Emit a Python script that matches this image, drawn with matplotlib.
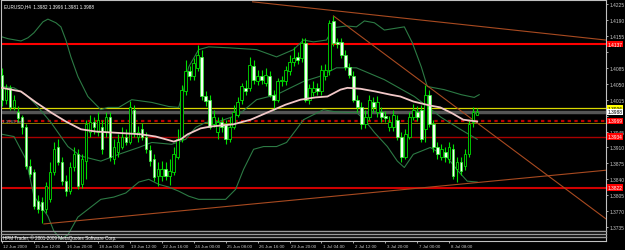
import numpy as np
import matplotlib.pyplot as plt
import matplotlib.transforms as mtrans
from matplotlib.lines import Line2D
from matplotlib import font_manager

# pick a narrow face if there is one, else plain Liberation Sans
names = {f.name for f in font_manager.fontManager.ttflist}
if 'Liberation Sans Narrow' in names:
    FONT, FS = 'Liberation Sans Narrow', 4.5
else:
    FONT, FS = 'Liberation Sans', 3.7
plt.rcParams['font.family'] = [FONT, 'DejaVu Sans']

# EURUSD H4 candles (bar index 0..119)
opens = [1.4070, 1.4015, 1.4041, 1.3998, 1.3989, 1.3976, 1.3954, 1.3869, 1.3856, 1.3792,
         1.3790, 1.3775, 1.3796, 1.3856, 1.3910, 1.3877, 1.3836, 1.3814, 1.3866, 1.3895,
         1.3830, 1.3880, 1.3945, 1.3965, 1.3945, 1.3956, 1.3943, 1.3978, 1.3884, 1.3901,
         1.3912, 1.3932, 1.3923, 1.3993, 1.3934, 1.3950, 1.3934, 1.3904, 1.3884, 1.3847,
         1.3847, 1.3862, 1.3847, 1.3856, 1.3890, 1.3928, 1.4033, 1.4077, 1.4066, 1.4085,
         1.4109, 1.4022, 1.4015, 1.3961, 1.3943, 1.3965, 1.3961, 1.3928, 1.3956, 1.3982,
         1.4015, 1.4041, 1.4041, 1.4090, 1.4055, 1.4066, 1.4052, 1.4066, 1.4026, 1.4015,
         1.4055, 1.4055, 1.4077, 1.4098, 1.4109, 1.4107, 1.4140, 1.4015, 1.4031, 1.4041,
         1.4033, 1.4066, 1.4081, 1.4188, 1.4142, 1.4142, 1.4114, 1.4087, 1.4066, 1.4015,
         1.3998, 1.3961, 1.3978, 1.4009, 1.3987, 1.3987, 1.3980, 1.3956, 1.3956, 1.3971,
         1.3934, 1.3890, 1.3934, 1.3978, 1.3989, 1.3993, 1.3950, 1.4026, 1.3961, 1.3910,
         1.3890, 1.3901, 1.3884, 1.3906, 1.3862, 1.3877, 1.3869, 1.3895, 1.3965, 1.3982]
highs = [1.4085, 1.4050, 1.4048, 1.4026, 1.4002, 1.3982, 1.3961, 1.3884, 1.3862, 1.3805,
         1.3801, 1.3834, 1.3877, 1.3921, 1.3928, 1.3888, 1.3849, 1.3877, 1.3912, 1.3906,
         1.3895, 1.3971, 1.3982, 1.3976, 1.3987, 1.3971, 1.3989, 1.3989, 1.3928, 1.3939,
         1.3956, 1.3950, 1.4011, 1.4004, 1.3958, 1.3963, 1.3945, 1.3915, 1.3895, 1.3877,
         1.3880, 1.3877, 1.3884, 1.3910, 1.3950, 1.4048, 1.4103, 1.4090, 1.4107, 1.4136,
         1.4125, 1.4033, 1.4026, 1.3993, 1.3976, 1.3978, 1.3971, 1.3976, 1.4004, 1.4020,
         1.4052, 1.4059, 1.4109, 1.4103, 1.4081, 1.4081, 1.4085, 1.4077, 1.4037, 1.4063,
         1.4068, 1.4090, 1.4114, 1.4131, 1.4120, 1.4151, 1.4151, 1.4050, 1.4055, 1.4052,
         1.4092, 1.4094, 1.4190, 1.4199, 1.4151, 1.4151, 1.4125, 1.4096, 1.4077, 1.4026,
         1.4009, 1.3993, 1.4026, 1.4020, 1.4022, 1.3998, 1.3991, 1.3980, 1.3993, 1.3982,
         1.3943, 1.3950, 1.3989, 1.4006, 1.4002, 1.4004, 1.4048, 1.4037, 1.3971, 1.3921,
         1.3917, 1.3910, 1.3921, 1.3917, 1.3888, 1.3888, 1.3906, 1.3971, 1.3998, 1.3996]
lows = [1.4002, 1.4006, 1.3993, 1.3993, 1.3965, 1.3939, 1.3862, 1.3845, 1.3775, 1.3766,
        1.3744, 1.3766, 1.3790, 1.3849, 1.3871, 1.3827, 1.3803, 1.3807, 1.3858, 1.3818,
        1.3822, 1.3840, 1.3932, 1.3939, 1.3936, 1.3895, 1.3932, 1.3880, 1.3873, 1.3890,
        1.3906, 1.3915, 1.3917, 1.3932, 1.3923, 1.3926, 1.3897, 1.3869, 1.3836, 1.3825,
        1.3836, 1.3838, 1.3827, 1.3849, 1.3884, 1.3921, 1.4026, 1.4059, 1.4059, 1.4079,
        1.4015, 1.4002, 1.3950, 1.3954, 1.3928, 1.3943, 1.3917, 1.3921, 1.3950, 1.3976,
        1.4006, 1.4026, 1.4033, 1.4050, 1.4048, 1.4050, 1.4044, 1.4020, 1.3993, 1.4009,
        1.4046, 1.4048, 1.4070, 1.4090, 1.4094, 1.4098, 1.4009, 1.4006, 1.4022, 1.4026,
        1.4026, 1.4059, 1.4070, 1.4133, 1.4129, 1.4107, 1.4081, 1.4063, 1.4009, 1.3989,
        1.3950, 1.3952, 1.3971, 1.3989, 1.3978, 1.3967, 1.3965, 1.3947, 1.3947, 1.3926,
        1.3877, 1.3884, 1.3928, 1.3971, 1.3969, 1.3921, 1.3921, 1.3954, 1.3901, 1.3884,
        1.3882, 1.3877, 1.3875, 1.3840, 1.3834, 1.3849, 1.3860, 1.3888, 1.3956, 1.3981]
closes = [1.4015, 1.4041, 1.4000, 1.4015, 1.3974, 1.3954, 1.3869, 1.3851, 1.3781, 1.3775,
          1.3772, 1.3825, 1.3856, 1.3906, 1.3877, 1.3836, 1.3814, 1.3866, 1.3895, 1.3825,
          1.3884, 1.3961, 1.3965, 1.3956, 1.3971, 1.3906, 1.3976, 1.3888, 1.3912, 1.3921,
          1.3934, 1.3923, 1.3998, 1.3943, 1.3945, 1.3934, 1.3906, 1.3880, 1.3845, 1.3862,
          1.3862, 1.3847, 1.3858, 1.3895, 1.3928, 1.4037, 1.4077, 1.4068, 1.4096, 1.4114,
          1.4022, 1.4011, 1.3956, 1.3976, 1.3965, 1.3954, 1.3928, 1.3954, 1.3987, 1.4009,
          1.4044, 1.4033, 1.4092, 1.4059, 1.4066, 1.4059, 1.4070, 1.4026, 1.4015, 1.4055,
          1.4059, 1.4081, 1.4098, 1.4107, 1.4103, 1.4140, 1.4015, 1.4041, 1.4041, 1.4035,
          1.4081, 1.4081, 1.4184, 1.4140, 1.4138, 1.4114, 1.4087, 1.4070, 1.4015, 1.3998,
          1.3961, 1.3978, 1.4015, 1.4000, 1.4009, 1.3976, 1.3974, 1.3967, 1.3982, 1.3934,
          1.3890, 1.3939, 1.3978, 1.3993, 1.3978, 1.3928, 1.4026, 1.3961, 1.3910, 1.3895,
          1.3906, 1.3888, 1.3910, 1.3847, 1.3877, 1.3858, 1.3895, 1.3961, 1.3987, 1.3988]

# Bollinger bands, sampled along the curves
bb_up_x = [0, 1.5, 4.75, 6.5, 8, 10.25, 11.5, 13.5, 14.75, 16, 17.25, 19, 21.5, 24.75, 26.5,
           29.25, 32.5, 37.5, 41.75, 44.25, 45.5, 46.75, 49.25, 51.75, 56.75, 63.75, 68.75,
           73, 75.5, 78, 81.25, 83, 86.25, 88.75, 90.75, 93.25, 95.75, 100.75, 102.75, 105,
           106.5, 110.75, 115, 118.25, 119.5]
bb_up = [1.4153, 1.4149, 1.4144, 1.4151, 1.4162, 1.4186, 1.4192, 1.4184, 1.4175, 1.4146,
         1.4109, 1.4066, 1.4022, 1.3993, 1.3998, 1.3998, 1.4015, 1.4009, 1.4000, 1.3998,
         1.4037, 1.4087, 1.4125, 1.4131, 1.4129, 1.4125, 1.4109, 1.4125, 1.4146, 1.4142,
         1.4146, 1.4173, 1.4177, 1.4175, 1.4188, 1.4184, 1.4168, 1.4175, 1.4140, 1.4087,
         1.4044, 1.4037, 1.4026, 1.4020, 1.4026]
bb_mid_x = [0, 3, 6, 8.5, 12.25, 16.5, 19.75, 24.75, 29.25, 34.25, 37.5, 42.5, 46, 48.5,
            51, 54.25, 59.25, 63.75, 68.75, 75.5, 79.5, 83.75, 88.75, 95.75, 103.25, 110,
            114.75, 119]
bb_mid = [1.4044, 1.4041, 1.4026, 1.4004, 1.3965, 1.3912, 1.3891, 1.3880, 1.3895, 1.3910,
          1.3921, 1.3917, 1.3928, 1.3954, 1.3965, 1.3967, 1.3982, 1.4015, 1.4026, 1.4055,
          1.4066, 1.4085, 1.4085, 1.4059, 1.4022, 1.3976, 1.3950, 1.3928]
bb_lo_x = [0, 3, 6, 8, 11.5, 13, 14.75, 16.5, 19, 24.75, 28, 31, 34.25, 36.75, 39.25,
           41.75, 44.25, 46.75, 49.25, 52.5, 56, 58.5, 60.5, 63, 65.5, 68.75, 71.25, 73.75,
           75.5, 78, 80.5, 83, 86.25, 88.75, 90.75, 93.25, 96.5, 99, 100.75, 103, 107.25,
           111.5, 114.25, 116.5, 119]
bb_lo = [1.3939, 1.3934, 1.3884, 1.3803, 1.3759, 1.3726, 1.3709, 1.3718, 1.3757, 1.3796,
         1.3801, 1.3810, 1.3834, 1.3840, 1.3829, 1.3823, 1.3814, 1.3803, 1.3796, 1.3796,
         1.3796, 1.3818, 1.3862, 1.3906, 1.3912, 1.3912, 1.3921, 1.3950, 1.3971, 1.3982,
         1.3993, 1.3989, 1.3987, 1.3987, 1.3971, 1.3943, 1.3912, 1.3880, 1.3866, 1.3895,
         1.3910, 1.3888, 1.3858, 1.3836, 1.3834]

# slow moving average (pink)
ma_x = [0, 4.75, 8.5, 12.25, 16, 19.75, 23.5, 27.25, 31, 34.75, 38.5, 41, 43, 44.75, 46.5,
        49.75, 52.25, 58, 62.25, 66.5, 71, 74.75, 78.5, 81.5, 84.75, 86.5, 89.75, 93.5,
        97.25, 99.75, 103, 107.25, 109.75, 112.75, 115.5, 119]
ma = [1.4041, 1.4033, 1.4009, 1.3987, 1.3967, 1.3950, 1.3945, 1.3943, 1.3941, 1.3939,
      1.3934, 1.3928, 1.3923, 1.3928, 1.3939, 1.3952, 1.3956, 1.3961, 1.3971, 1.3987,
      1.4004, 1.4015, 1.4020, 1.4022, 1.4037, 1.4041, 1.4039, 1.4033, 1.4026, 1.4022,
      1.4011, 1.4002, 1.3998, 1.3985, 1.3971, 1.3967]

# trend lines: (bar, price) start and end
trend_top = [(62.75, 1.4230), (151.25, 1.4146)]
trend_down = [(83, 1.4199), (151.25, 1.3753)]
trend_up = [(10.5, 1.3742), (151.25, 1.3860)]

# horizontal levels with their price tags
level_prices = [1.4137, 1.3996, 1.3988, 1.3969, 1.3934, 1.3822]
level_colors = ['#ff0000', '#d8d800', '#555555', '#c00000', '#a80000', '#d00000']
level_widths = [1.5, 0.9, 2.5, 1.6, 1.0, 1.5]
level_dashes = [None, None, None, (1.5, 1.5), None, None]
tag_colors = ['#ff0000', '#ffff00', '#ffffff', '#ff0000', '#ff0000', '#ff0000']
tag_text = ['white', 'black', 'black', 'white', 'white', 'white']

yticks = [1.4225, 1.4190, 1.4155, 1.4120, 1.4085, 1.4050, 1.4015, 1.3980,
          1.3945, 1.3910, 1.3875, 1.3840, 1.3805, 1.3770, 1.3735]
hidden_ticks = [1.4120, 1.3980]   # covered by the price tags
xtick_bars = [0, 8, 16, 24, 32, 40, 48, 56, 64, 72, 80, 88, 96, 104, 112]
xtick_labels = ['12 Jun 2009', '15 Jun 12:00', '16 Jun 20:00', '18 Jun 04:00',
                '19 Jun 12:00', '22 Jun 16:00', '24 Jun 00:00', '25 Jun 08:00',
                '26 Jun 16:00', '29 Jun 20:00', '1 Jul 04:00', '2 Jul 12:00',
                '3 Jul 20:00', '7 Jul 00:00', '8 Jul 08:00']

W, H = 625, 251
fig = plt.figure(figsize=(W / 100, H / 100), dpi=100, facecolor='black')
ax = fig.add_axes([1 / W, 1 - 242 / H, 605 / W, 241 / H], facecolor='black')
ax.set_xlim(-0.25, 151.25)
ax.set_ylim(1.37045, 1.4234)

o = np.array(opens); h = np.array(highs); l = np.array(lows); c = np.array(closes)
idx = np.arange(len(o))
bull = c >= o

# indicators under the candles
for bx, by in ((bb_up_x, bb_up), (bb_mid_x, bb_mid), (bb_lo_x, bb_lo)):
    ax.plot(bx, by, color='#2c7a44', lw=0.8, zorder=2)

for p, lc, lw, ds in zip(level_prices, level_colors, level_widths, level_dashes):
    ln = ax.axhline(p, color=lc, lw=lw, zorder=1)
    if ds:
        ln.set_dashes(ds)
# thin olive line under the dotted level
ax.axhline(1.3964, color='#8a7a00', lw=0.7, zorder=1)

for tl in (trend_top, trend_down, trend_up):
    (x0, y0), (x1, y1) = tl
    ax.plot([x0, x1], [y0, y1], color='#a84a20', lw=0.8, zorder=2)

# candles
ax.vlines(idx, l, h, color='#00e000', lw=0.8, zorder=3)
body_lo = np.minimum(o, c)
body_h = np.maximum(np.abs(c - o), 0.00015)
ax.bar(idx[bull], body_h[bull], bottom=body_lo[bull], width=0.62,
       color='black', edgecolor='#00e000', lw=0.6, zorder=4)
ax.bar(idx[~bull], body_h[~bull], bottom=body_lo[~bull], width=0.62,
       color='#f4fff4', edgecolor='#30ff30', lw=0.5, zorder=4)

ax.plot(ma_x, ma, color='#f2c8c8', lw=1.3, zorder=5)

# axes styling
for s in ax.spines.values():
    s.set_color('#c0c0c0')
    s.set_linewidth(0.8)
ax.yaxis.tick_right()
ax.set_yticks(yticks)
ax.set_yticklabels(['' if v in hidden_ticks else f'{v:.4f}' for v in yticks])
ax.set_xticks(xtick_bars)
ax.set_xticklabels(xtick_labels, ha='left')
ax.tick_params(axis='both', colors='#c8c8c8', length=1.5, width=0.6, pad=0.8)
ax.tick_params(axis='y', labelsize=FS * 0.95)
ax.tick_params(axis='x', labelsize=FS * 0.85)
offset = mtrans.ScaledTranslation(1.0 / 72, 0, fig.dpi_scale_trans)
for lab in ax.get_xticklabels():
    lab.set_transform(lab.get_transform() + offset)

# price tags on the right
for p, fc, tc in zip(level_prices, tag_colors, tag_text):
    ax.text(1.003, p, f'{p:.4f}', transform=ax.get_yaxis_transform(), ha='left',
            va='center', fontsize=FS * 0.95, color=tc, clip_on=False, zorder=10,
            bbox=dict(boxstyle='square,pad=0.12', fc=fc, ec='none'))

# header and footer texts
ax.text(0.005, 0.988, 'EURUSD,H4  1.3982 1.3996 1.3981 1.3988', transform=ax.transAxes,
        ha='left', va='top', fontsize=FS * 0.9, color='white', zorder=10)
ax.text(0.008, 1.3969, '1.3969 key', ha='left', va='center', fontsize=FS * 0.85,
        color='#a0a0a0', zorder=6)
for yy in (232, 235, 238):
    fig.add_artist(Line2D([1 / W, 606 / W], [1 - yy / H, 1 - yy / H], color='#9a9a9a', lw=1.0))
fig.text(3 / W, 1 - 238 / H, 'HPM Trader, \u00a9 2001-2009 MetaQuotes Software Corp.',
         ha='left', va='center', fontsize=FS * 0.9, color='white')

fig.savefig('out.png', dpi=100, facecolor='black')
